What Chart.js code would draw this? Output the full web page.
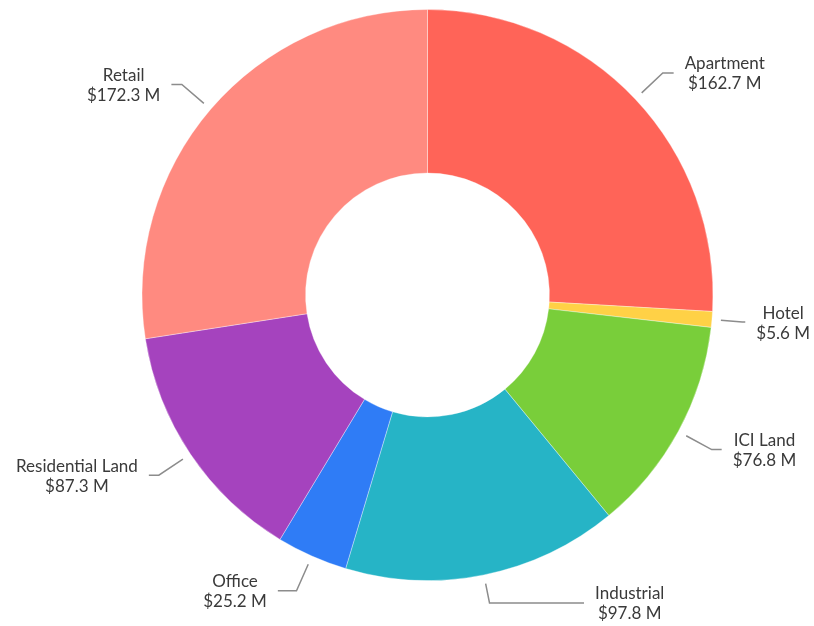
<!DOCTYPE html>
<html>
<head>
<meta charset="utf-8">
<script src="https://cdn.jsdelivr.net/npm/chart.js@4"></script>
<style>
  body { margin: 0; background: #fff; }
  canvas { display: block; }
</style>
</head>
<body>
<canvas id="myChart" width="814" height="626"></canvas>
<script>
// data (millions of dollars)
var categories = ['Apartment', 'Hotel', 'ICI Land', 'Industrial', 'Office', 'Residential Land', 'Retail'];
var values = [162.7, 5.6, 76.8, 97.8, 25.2, 87.3, 172.3];
var colors = ['#ff6458', '#ffd146', '#79ce3a', '#26b4c6', '#2f7cf6', '#a543be', '#ff8a80'];

function money(v) {
  return '$' + v.toFixed(1) + ' M';
}

// labels outside the ring with a bent leader line
var outLabels = {
  id: 'outLabels',
  afterDatasetsDraw: function(chart) {
    var ctx = chart.ctx;
    var meta = chart.getDatasetMeta(0);
    var W = chart.width, H = chart.height;
    ctx.save();
    ctx.font = '17px Lato';
    meta.data.forEach(function(arc, i) {
      var p = arc.getProps(['x', 'y', 'startAngle', 'endAngle', 'outerRadius'], true);
      var mid = (p.startAngle + p.endAngle) / 2;
      var dx = Math.cos(mid), dy = Math.sin(mid);
      var R = p.outerRadius;
      var side = dx >= 0 ? 1 : -1;
      var sx = p.x + dx * (R + 9), sy = p.y + dy * (R + 9);
      var ex = p.x + dx * (R + 38), ey = p.y + dy * (R + 38);
      var t;
      var rl = R + 46;
      // pushed labels (bottom / top edge) sit further out
      if (ey > H - 23 || ey < 20) {
        ey = Math.min(Math.max(ey, 20), H - 23);
        t = (ey - p.y) / dy;
        ex = p.x + dx * t;
        rl = R + 60;
      }
      var off = ey - p.y;
      var circ = p.x + side * Math.sqrt(Math.max(rl * rl - off * off, 0));
      var endX = side > 0 ? Math.max(ex + 10, circ) : Math.min(ex - 10, circ);
      var lines = [categories[i], money(values[i])];
      var w = Math.max(ctx.measureText(lines[0]).width, ctx.measureText(lines[1]).width);
      if (side > 0 && endX + 11 + w > W - 4) endX = W - 4 - w - 11;
      if (side < 0 && endX - 11 - w < 4) endX = 4 + w + 11;
      if (side * (endX - ex) < 3) {
        ex = endX - side * 3;
        t = (ex - p.x) / dx;
        ey = p.y + dy * t;
      }
      ctx.strokeStyle = '#8c8c8c';
      ctx.lineWidth = 1.5;
      ctx.beginPath();
      ctx.moveTo(sx, sy);
      ctx.lineTo(ex, ey);
      ctx.lineTo(endX, ey);
      ctx.stroke();
      var tx = endX + side * (11 + w / 2);
      ctx.fillStyle = '#3a3a3a';
      ctx.textAlign = 'center';
      ctx.textBaseline = 'middle';
      ctx.fillText(lines[0], tx, ey - 9);
      ctx.fillText(lines[1], tx, ey + 11);
    });
    ctx.restore();
  }
};

var ctx = document.getElementById('myChart').getContext('2d');
var myChart = new Chart(ctx, {
  type: 'doughnut',
  data: {
    labels: categories,
    datasets: [{
      data: values,
      backgroundColor: colors,
      borderColor: 'rgba(255,255,255,0.35)',
      borderWidth: 1,
      hoverOffset: 0
    }]
  },
  options: {
    responsive: false,
    animation: false,
    cutout: '42.7%',
    layout: { padding: { top: 9, bottom: 45, left: 141, right: 100 } },
    plugins: {
      legend: { display: false },
      tooltip: { enabled: false }
    }
  },
  plugins: [outLabels]
});
</script>
</body>
</html>
